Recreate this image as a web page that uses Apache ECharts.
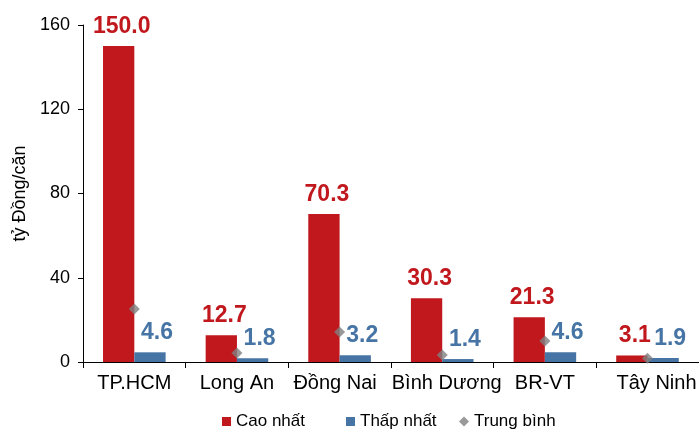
<!DOCTYPE html>
<html><head><meta charset="utf-8">
<script src="https://cdn.jsdelivr.net/npm/echarts@6/dist/echarts.min.js"></script>
<style>html,body{margin:0;padding:0;background:#fff}#c{width:699px;height:430px}</style>
</head><body><div id="c"></div>
<script>
const categories = ['TP.HCM', 'Long An', 'Đồng Nai', 'Bình Dương', 'BR-VT', 'Tây Ninh'];
const maxValues = [150.0, 12.7, 70.3, 30.3, 21.3, 3.1];
const minValues = [4.6, 1.8, 3.2, 1.4, 4.6, 1.9];
const avgValues = [25.2, 4.3, 14.2, 3.3, 10.0, 1.8];
const yTicks = [0, 40, 80, 120, 160];
const seriesNames = ['Cao nhất', 'Thấp nhất', 'Trung bình'];

const RED = '#C1181E', BLUE = '#4675A5', GRAY = '#808080';
const font = 'Liberation Sans, Arial, sans-serif';
const legendText = { fontSize: 17, color: '#000', fontFamily: font };
function leg(name, icon, left, w) {
  return { top: 413, left: left, padding: 0, itemWidth: w, itemHeight: w, itemGap: 0,
    textStyle: legendText, data: [{ name: name, icon: icon }] };
}
const labelPads = [[0, 0, 0, 0], [0, 0, 0, 0], [0, 9, 0, 0], [0, 0, 0, 9], [0, 0, 0, 0], [0, 0, 0, 18]];
const chart = echarts.init(document.getElementById('c'));
chart.setOption({
  animation: false,
  textStyle: { fontFamily: font },
  grid: { left: 83, top: 25, width: 622, height: 337 },
  legend: [
    leg(seriesNames[0], 'rect', 222, 9),
    leg(seriesNames[1], 'rect', 346, 9),
    leg(seriesNames[2], 'diamond', 459, 10)
  ],
  xAxis: {
    type: 'category',
    data: categories.map((c, i) => ({ value: c, textStyle: { padding: labelPads[i] } })),
    axisLine: { lineStyle: { color: '#000', width: 1 } },
    axisTick: { show: true, interval: 0, length: 6, lineStyle: { color: '#000' } },
    axisLabel: { interval: 0, color: '#000', fontSize: 20, margin: 11, fontFamily: font }
  },
  yAxis: {
    type: 'value', min: yTicks[0], max: yTicks[yTicks.length - 1], interval: 40,
    name: 'tỷ Đồng/căn', nameLocation: 'middle', nameGap: 54, nameRotate: 90,
    nameTextStyle: { fontSize: 18, color: '#000', fontFamily: font },
    axisLine: { show: true, lineStyle: { color: '#000', width: 1 } },
    axisTick: { show: true, length: 5, lineStyle: { color: '#000' } },
    splitLine: { show: false },
    axisLabel: { color: '#000', fontSize: 18, margin: 13, fontFamily: font }
  },
  series: [
    {
      name: seriesNames[0], type: 'bar', data: maxValues, barGap: '0%', barCategoryGap: '39%',
      itemStyle: { color: RED },
      label: { show: true, position: 'top', distance: 8, offset: [3, 0], color: RED, fontSize: 23, fontWeight: 'bold',
        formatter: p => p.value.toFixed(1), fontFamily: font }
    },
    {
      name: seriesNames[1], type: 'bar', data: minValues, barGap: '0%', barCategoryGap: '39%',
      itemStyle: { color: BLUE },
      label: { show: true, position: 'top', distance: 8, offset: [7, 0], color: BLUE, fontSize: 23, fontWeight: 'bold',
        formatter: p => p.value.toFixed(1), fontFamily: font }
    },
    {
      name: seriesNames[2], type: 'scatter', data: avgValues, symbol: 'diamond', symbolSize: 11,
      itemStyle: { color: GRAY }, z: 5
    }
  ]
});
</script></body></html>
